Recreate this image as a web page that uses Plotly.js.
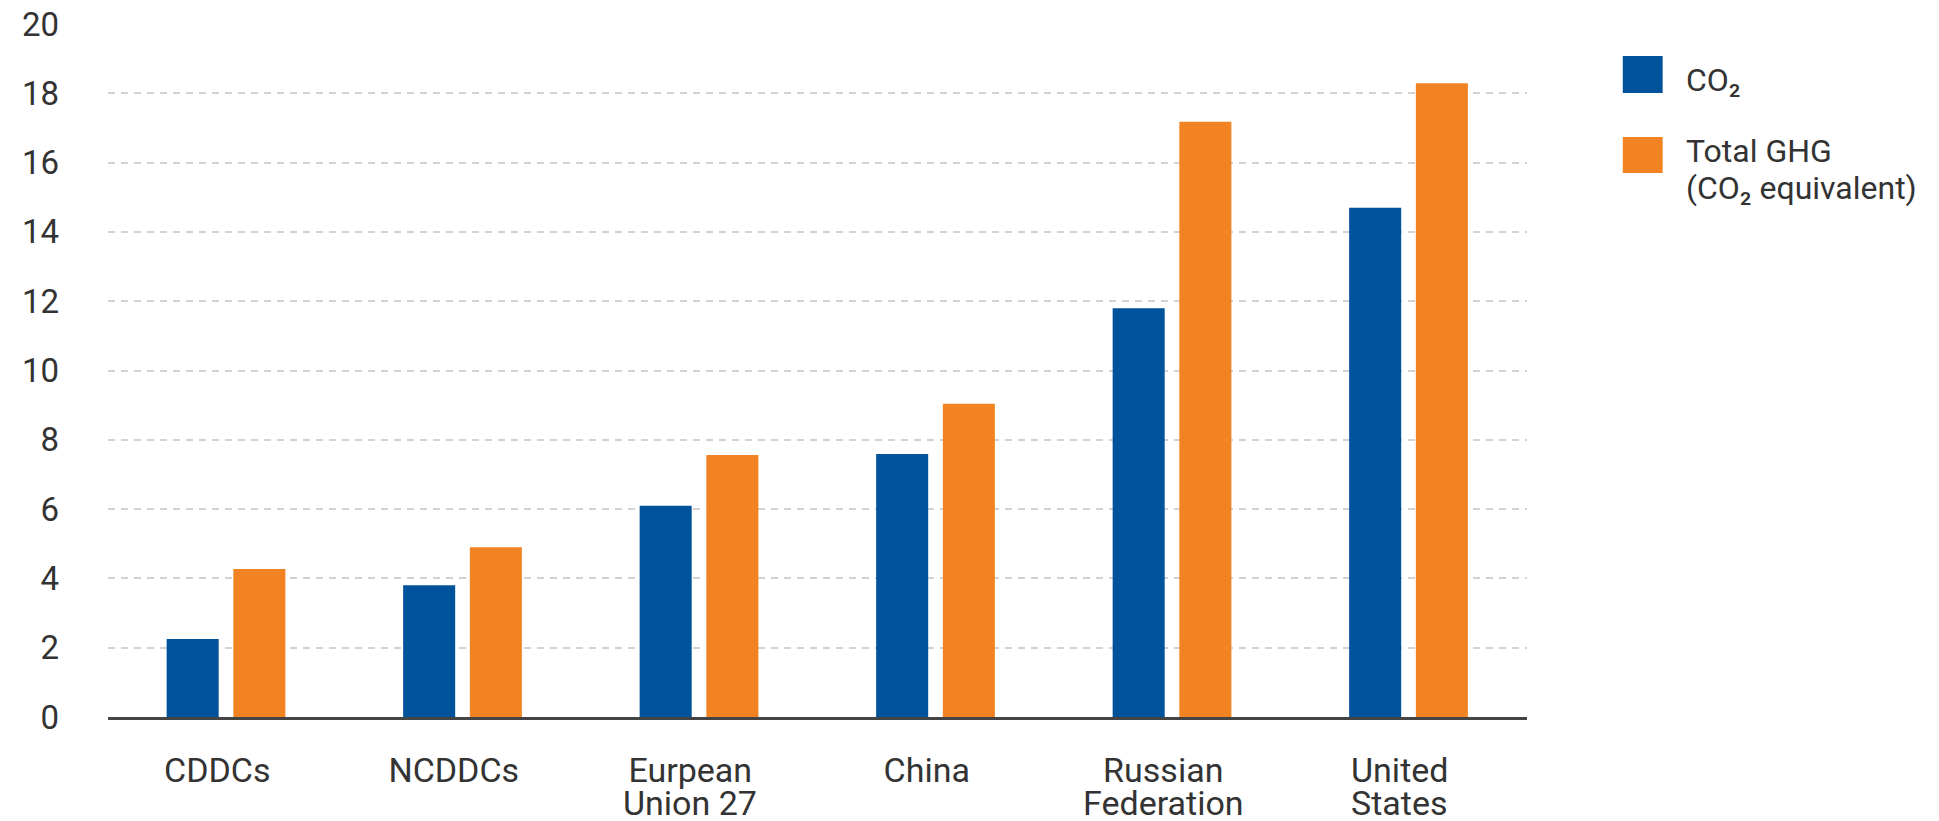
<!DOCTYPE html>
<html>
<head>
<meta charset="utf-8">
<script src="https://cdn.plot.ly/plotly-3.0.1.min.js"></script>
<style>html,body{margin:0;padding:0;background:#fff;}#chart{width:1939px;height:821px;}</style>
</head>
<body>
<div id="chart"></div>
<script>
// ---- data ----
const categories = ["CDDCs", "NCDDCs", "EU27", "China", "Russian Federation", "United States"];
const labelLine1 = ["CDDCs", "NCDDCs", "Eurpean", "China", "Russian", "United"];
const labelLine2 = ["", "", "Union 27", "", "Federation", "States"];
const co2Values = [2.25, 3.8, 6.1, 7.59, 11.8, 14.7];
const ghgValues = [4.27, 4.9, 7.56, 9.04, 17.18, 18.29];
const seriesNames = ["CO₂", "Total GHG (CO₂ equivalent)"];
const legendLines = [["CO₂"], ["Total GHG", "(CO₂ equivalent)"]];
const yTicks = [0, 2, 4, 6, 8, 10, 12, 14, 16, 18, 20];

// ---- style ----
const colors = ["#00529b", "#f28322"];
const textColor = "#333333";
const fontFamily = "Roboto, 'Open Sans', sans-serif";
const labelShift = -9;

const traces = [
  {type: "bar", name: seriesNames[0], x: categories, y: co2Values,
   marker: {color: colors[0]}, width: 0.22, offset: -0.252, showlegend: false, hoverinfo: "x+y"},
  {type: "bar", name: seriesNames[1], x: categories, y: ghgValues,
   marker: {color: colors[1]}, width: 0.22, offset: 0.03, showlegend: false, hoverinfo: "x+y"}
];

const annotations = [];
categories.forEach((c, i) => {
  if (labelLine2[i]) {
    annotations.push({x: c, xref: "x", y: 0, yref: "paper", yanchor: "top", xanchor: "center",
      yshift: -65, xshift: labelShift, text: labelLine2[i], showarrow: false, borderpad: 0,
      font: {family: fontFamily, size: 34, color: textColor}});
  }
});

// manual legend (large swatches)
const shapes = [];
const swatchY = [[0.9004, 0.9538], [0.785, 0.8369]];
const legendTextY = [[0.9185], [0.8167, 0.763]];
for (let s = 0; s < 2; s++) {
  shapes.push({type: "rect", xref: "paper", yref: "paper", x0: 1.0675, x1: 1.0956,
    y0: swatchY[s][0], y1: swatchY[s][1], fillcolor: colors[s], line: {width: 0}});
  legendLines[s].forEach((t, j) => {
    annotations.push({xref: "paper", yref: "paper", x: 1.1103, y: legendTextY[s][j],
      xanchor: "left", yanchor: "middle", text: t, showarrow: false,
      font: {family: fontFamily, size: 32, color: textColor}});
  });
}

const layout = {
  width: 1939, height: 821,
  margin: {l: 108, r: 412, t: 24, b: 104, pad: 0},
  paper_bgcolor: "#ffffff", plot_bgcolor: "#ffffff",
  font: {family: fontFamily, color: textColor},
  barmode: "overlay",
  showlegend: false,
  xaxis: {
    type: "category",
    tickmode: "array", tickvals: categories, ticktext: labelLine1,
    tickfont: {family: fontFamily, size: 34, color: textColor},
    showline: true, linecolor: "#444444", linewidth: 3,
    showgrid: false, ticks: "", ticklabelstandoff: 21, ticklabelshift: labelShift,
    range: [-0.5, 5.5], fixedrange: true
  },
  yaxis: {
    range: [0, 20], tickmode: "array", tickvals: yTicks,
    tickfont: {family: fontFamily, size: 33, color: textColor},
    showgrid: true, gridcolor: "#d2d2d2", gridwidth: 2, griddash: "7px,6px",
    zeroline: false, showline: false, ticks: "", ticklabelstandoff: 48,
    fixedrange: true
  },
  shapes: shapes,
  annotations: annotations
};

Plotly.newPlot("chart", traces, layout, {displayModeBar: false, staticPlot: true});
</script>
</body>
</html>
